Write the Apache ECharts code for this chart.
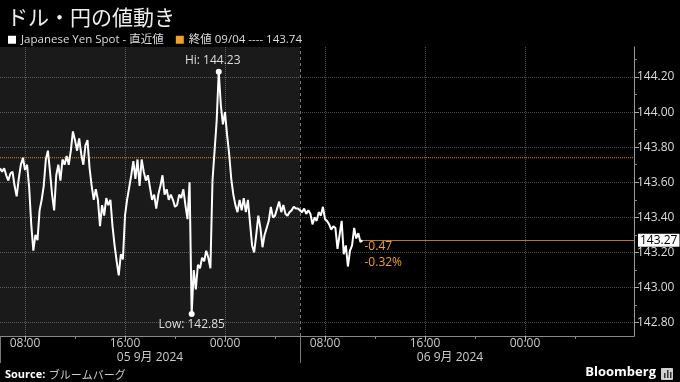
<!DOCTYPE html>
<html>
<head>
<meta charset="utf-8">
<script src="https://cdn.jsdelivr.net/npm/echarts@6/dist/echarts.min.js"></script>
<style>
html,body{margin:0;padding:0;background:#000;}
#c{width:680px;height:382px;}
</style>
</head>
<body>
<div id="c"></div>
<script>
// ---- data ----
const seriesName = 'Japanese Yen Spot - 直近値';
const prevCloseDate = '09/04';
const prevClose = 143.74;
const changeAbs = -0.47;
const changePct = -0.32;
// hours since 05 Sep 00:00, one quote every 10 minutes starting 06:00
const startHour = 6;
const stepHour = 1 / 6;
const prices = [
  143.68,143.66,143.68,143.64,143.61,143.65,143.66,143.58,143.52,143.62,143.70,143.74,143.67,
  143.70,143.57,143.36,143.21,143.30,143.27,143.44,143.50,143.58,143.73,143.78,143.66,
  143.53,143.44,143.64,143.70,143.61,143.73,143.70,143.75,143.70,143.78,143.89,143.84,
  143.78,143.85,143.76,143.70,143.81,143.84,143.68,143.58,143.50,143.56,143.50,143.35,
  143.47,143.41,143.51,143.47,143.50,143.35,143.24,143.15,143.07,143.19,143.16,143.41,
  143.50,143.57,143.64,143.72,143.62,143.73,143.58,143.73,143.66,143.61,143.64,143.57,
  143.50,143.53,143.45,143.53,143.58,143.64,143.53,143.56,143.50,143.53,143.50,143.46,
  143.47,143.53,143.51,143.56,143.47,143.39,143.60,142.85,143.10,142.99,143.13,143.11,
  143.17,143.15,143.21,143.17,143.11,143.61,143.78,143.95,144.23,144.04,143.93,144.00,
  143.87,143.76,143.62,143.53,143.47,143.43,143.50,143.44,143.51,143.43,143.50,143.37,
  143.24,143.20,143.30,143.41,143.34,143.23,143.30,143.34,143.38,143.46,143.40,143.41,
  143.45,143.49,143.43,143.47,143.42,143.41,143.43,143.44,143.46,143.45,143.45,143.44,
  143.43,143.45,143.42,143.44,143.42,143.36,143.40,143.38,143.43,143.41,143.46,143.39,
  143.38,143.36,143.33,143.35,143.34,143.22,143.30,143.38,143.19,143.24,143.12,143.21,
  143.24,143.34,143.28,143.31,143.26,143.27
];
const xMin = 6, xMax = 56.72;
const yMin = 142.724, yMax = 144.371;
const yTickValues = [142.8,143.0,143.2,143.4,143.6,143.8,144.0,144.2];
const yMinorTickValues = [142.9,143.1,143.3,143.5,143.7,143.9,144.1,144.3];
const xLabelHours = [8,16,24,32,40,48];
const xMinorHours = [12,20,28,36,44,52];
const sessionStarts = [6,30];
const dateLabelHours = [18,42];
const dateLabels = {18:'05 9月 2024', 42:'06 9月 2024'};

// ---- build ----
const lineData = prices.map((v,i)=>[startHour + i*stepHour, v]);
const last = lineData[lineData.length-1];
const prevName = '終値 ' + prevCloseDate + ' ---- ' + prevClose.toFixed(2);
const FONT = '"Open Sans","Noto Sans CJK JP",sans-serif';
const ORANGE = '#f0a030';

const chart = echarts.init(document.getElementById('c'), null, {renderer:'canvas'});
chart.setOption({
  backgroundColor:'#000',
  animation:false,
  textStyle:{fontFamily:FONT},
  title:{
    text:'ドル・円の値動き', left:2, top:2,
    textStyle:{color:'#eeeeee', fontSize:21, fontWeight:'normal', fontFamily:'"Noto Sans CJK JP",sans-serif'}
  },
  legend:{
    left:8, top:34, icon:'rect', itemWidth:8, itemHeight:8, itemGap:12, padding:0,
    textStyle:{color:'#dddddd', fontSize:11.5, fontFamily:FONT},
    data:[{name:seriesName, itemStyle:{color:'#ffffff'}},{name:prevName, itemStyle:{color:ORANGE}}]
  },
  grid:{left:0, right:46, top:47, bottom:46, containLabel:false},
  xAxis:[
    {
      type:'value', min:xMin, max:xMax,
      axisLine:{show:true, lineStyle:{color:'#888', width:1}},
      axisTick:{show:true, customValues:xLabelHours, length:4, lineStyle:{color:'#bbb'}},
      axisLabel:{show:true, customValues:xLabelHours, margin:2, color:'#cccccc', fontSize:12, fontFamily:FONT,
        formatter:v=>String(((v%24)+24)%24).padStart(2,'0')+':00'},
      splitLine:{show:true, lineStyle:{color:'#4a4a4a', type:'dotted', width:1}}
    },
    {
      type:'value', min:xMin, max:xMax, position:'bottom',
      axisLine:{show:false},
      axisTick:{show:true, customValues:xMinorHours, length:3, lineStyle:{color:'#888'}},
      axisLabel:{show:false}, splitLine:{show:false}
    },
    {
      type:'value', min:xMin, max:xMax, position:'bottom',
      axisLine:{show:false},
      axisTick:{show:true, customValues:sessionStarts, length:27, lineStyle:{color:'#777'}},
      axisLabel:{show:true, customValues:dateLabelHours, margin:16, color:'#cccccc', fontSize:12, fontFamily:FONT,
        formatter:v=>dateLabels[Math.round(v)] || ''},
      splitLine:{show:false}
    }
  ],
  yAxis:[
    {
      type:'value', min:yMin, max:yMax, position:'right',
      axisLine:{show:true, lineStyle:{color:'#999', width:1}},
      axisTick:{show:true, customValues:yTickValues, length:5, lineStyle:{color:'#aaa'}},
      axisLabel:{show:true, customValues:yTickValues, margin:3, color:'#dddddd', fontSize:12, fontFamily:FONT,
        formatter:v=>v.toFixed(2)},
      splitLine:{show:true, lineStyle:{color:'#4a4a4a', type:'dotted', width:1}}
    },
    {
      type:'value', min:yMin, max:yMax, position:'right',
      axisLine:{show:false},
      axisTick:{show:true, customValues:yMinorTickValues, length:3, lineStyle:{color:'#888'}},
      axisLabel:{show:false}, splitLine:{show:false}
    }
  ],
  series:[
    {
      name:prevName, type:'line', xAxisIndex:0, yAxisIndex:0,
      data:[[xMin, prevClose],[xMax, prevClose]],
      showSymbol:false, silent:true, z:3,
      itemStyle:{color:ORANGE},
      lineStyle:{color:'#d98a1e', width:1, type:[1,1]},
      markArea:{
        silent:true,
        itemStyle:{color:'rgba(255,255,255,0.10)'},
        data:[[{xAxis:sessionStarts[0]},{xAxis:sessionStarts[1]}]]
      },
      markLine:{
        silent:true, symbol:'none', label:{show:false},
        lineStyle:{color:'#777', type:[3,3], width:1},
        data:[{xAxis:sessionStarts[1]}]
      }
    },
    {
      name:seriesName, type:'line', xAxisIndex:0, yAxisIndex:0,
      data:lineData, showSymbol:false, z:5,
      itemStyle:{color:'#ffffff'},
      lineStyle:{color:'#ffffff', width:2},
      markPoint:{
        symbol:'circle', symbolSize:6,
        itemStyle:{color:'#ffffff'},
        data:[
          {type:'max', label:{show:true, position:'top', distance:2, offset:[-6,0], color:'#dddddd', fontSize:12,
            formatter:p=>'Hi: '+p.value.toFixed(2)}},
          {type:'min', label:{show:true, position:'bottom', distance:2, color:'#dddddd', fontSize:12,
            formatter:p=>'Low: '+p.value.toFixed(2)}},
          {coord:last, value:last[1], symbolSize:0,
            label:{show:true, position:'right', distance:2, offset:[0,14], color:'#f0a030', fontSize:12, lineHeight:16, align:'left',
              formatter:()=>changeAbs.toFixed(2)+'\n'+changePct.toFixed(2)+'%'}}
        ]
      },
      markLine:{
        silent:true, symbol:'none',
        lineStyle:{color:'#b07a35', type:'solid', width:1},
        label:{show:true, position:'end', distance:4, color:'#000', backgroundColor:'#ffffff',
          padding:[1,2,0,2], fontSize:12, formatter:()=>last[1].toFixed(2)},
        data:[[{coord:last},{coord:[xMax, last[1]]}]]
      }
    }
  ],
  graphic:[
    {type:'text', left:5, top:369, style:{
      text:'{b|Source:} {n|ブルームバーグ}',
      rich:{b:{fontWeight:'bold', fontSize:11, fill:'#ffffff', fontFamily:FONT},
            n:{fontSize:11, fill:'#cccccc', fontFamily:'"Noto Sans CJK JP",sans-serif'}}
    }},
    {type:'text', right:24, top:366, style:{text:'Bloomberg', fontWeight:'bold', fontSize:13, fill:'#ffffff', fontFamily:FONT}},
    {type:'rect', right:7, top:368, shape:{width:12, height:12, r:1}, style:{fill:'#d0d0d0'}},
    {type:'rect', left:664, top:373, shape:{width:1.5, height:5}, style:{fill:'#333'}},
    {type:'rect', left:667, top:370, shape:{width:1.5, height:8}, style:{fill:'#333'}},
    {type:'rect', left:670, top:372, shape:{width:1.5, height:6}, style:{fill:'#333'}}
  ]
});
</script>
</body>
</html>
